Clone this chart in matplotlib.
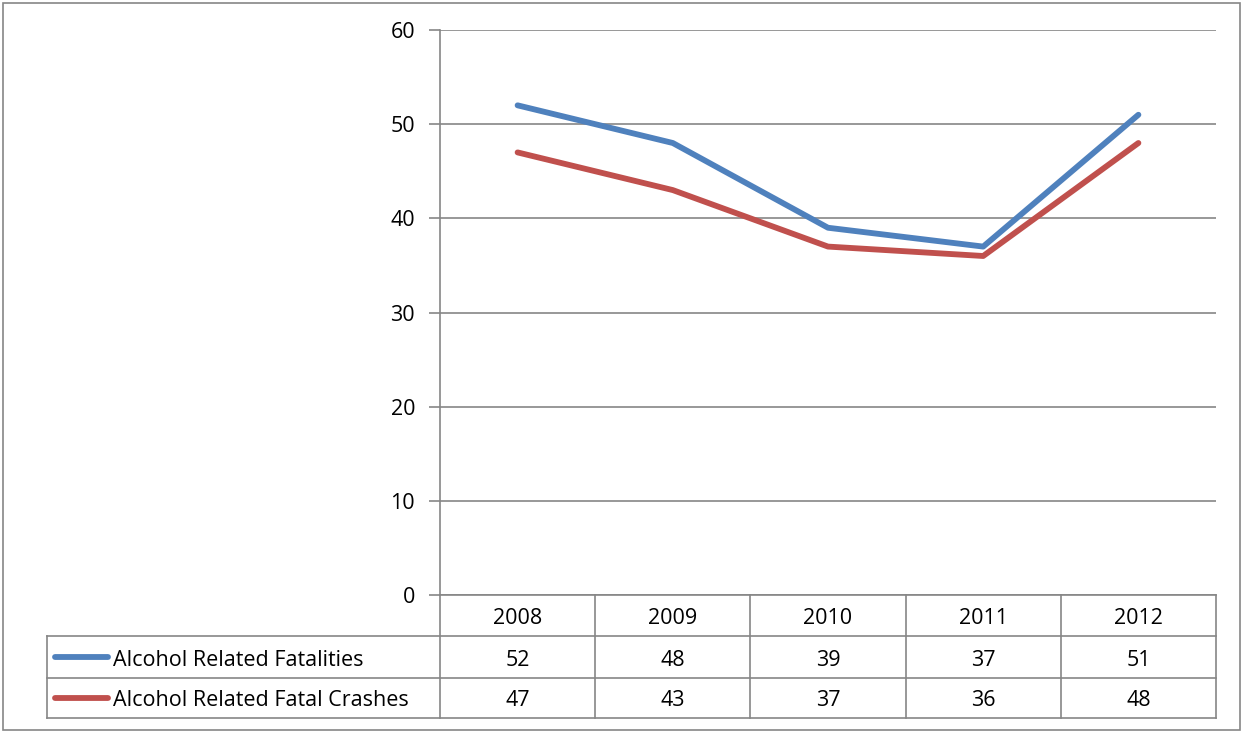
import matplotlib.pyplot as plt
from matplotlib.lines import Line2D
from matplotlib.patches import Rectangle

plt.rcParams['font.family'] = ['Open Sans', 'DejaVu Sans']

years = ['2008', '2009', '2010', '2011', '2012']
fatalities = [52, 48, 39, 37, 51]
crashes = [47, 43, 37, 36, 48]
series_names = ['Alcohol Related Fatalities', 'Alcohol Related Fatal Crashes']
series_colors = ['#4F81BD', '#C0504D']
yticks = [0, 10, 20, 30, 40, 50, 60]

W, H = 1247, 733
fig = plt.figure(figsize=(W / 100, H / 100), dpi=100)

def fx(px):
    return px / W

def fy(py):
    return 1 - py / H

grid_c = '#868686'
fs = 15.5
# outer chart border
fig.add_artist(Rectangle((fx(3), fy(730)), fx(1237), 727 / H, transform=fig.transFigure,
                         fill=False, edgecolor=grid_c, lw=1.2))

left, right, top, bottom = 440, 1216, 30, 595
ax = fig.add_axes([fx(left), fy(bottom), fx(right - left), (bottom - top) / H])
ax.set_xlim(-0.5, len(years) - 0.5)
ax.set_ylim(0, 60)
for s in ['top', 'right', 'bottom']:
    ax.spines[s].set_visible(False)
ax.spines['left'].set_color(grid_c)
ax.spines['left'].set_linewidth(1.2)
ax.set_yticks(yticks)
ax.tick_params(axis='y', length=8, color=grid_c, width=1.2, labelsize=fs, pad=10)
ax.set_xticks([])
ax.grid(axis='y', color=grid_c, lw=1.2)
ax.set_axisbelow(True)

xs = range(len(years))
for vals, c in zip([fatalities, crashes], series_colors):
    ax.plot(xs, vals, color=c, lw=4.2, solid_capstyle='round', zorder=3)

# data table
rows_y = [595, 636, 678, 718]
col_x = [left + i * (right - left) / len(years) for i in range(len(years) + 1)]
tbl_left = 47
lk = dict(color=grid_c, lw=1.2, transform=fig.transFigure)
fig.add_artist(Line2D([fx(left), fx(right)], [fy(rows_y[0])] * 2, **lk))
for yy in rows_y[1:]:
    fig.add_artist(Line2D([fx(tbl_left), fx(right)], [fy(yy)] * 2, **lk))
for cx in col_x:
    fig.add_artist(Line2D([fx(cx)] * 2, [fy(rows_y[0]), fy(rows_y[-1])], **lk))
fig.add_artist(Line2D([fx(tbl_left)] * 2, [fy(rows_y[1]), fy(rows_y[-1])], **lk))

for i, yr in enumerate(years):
    cx = (col_x[i] + col_x[i + 1]) / 2
    fig.text(fx(cx), fy((rows_y[0] + rows_y[1]) / 2 + 3), yr, ha='center', va='center', fontsize=fs)
    for r, vals in enumerate([fatalities, crashes]):
        cy = (rows_y[r + 1] + rows_y[r + 2]) / 2 + 3
        fig.text(fx(cx), fy(cy), str(vals[i]), ha='center', va='center', fontsize=fs)

for r, (name, c) in enumerate(zip(series_names, series_colors)):
    cy = (rows_y[r + 1] + rows_y[r + 2]) / 2
    fig.add_artist(Line2D([fx(55), fx(108)], [fy(cy)] * 2, color=c, lw=4.2,
                          solid_capstyle='round', transform=fig.transFigure))
    fig.text(fx(113), fy(cy + 3), name, ha='left', va='center', fontsize=fs)

fig.savefig('out.png', dpi=100)
